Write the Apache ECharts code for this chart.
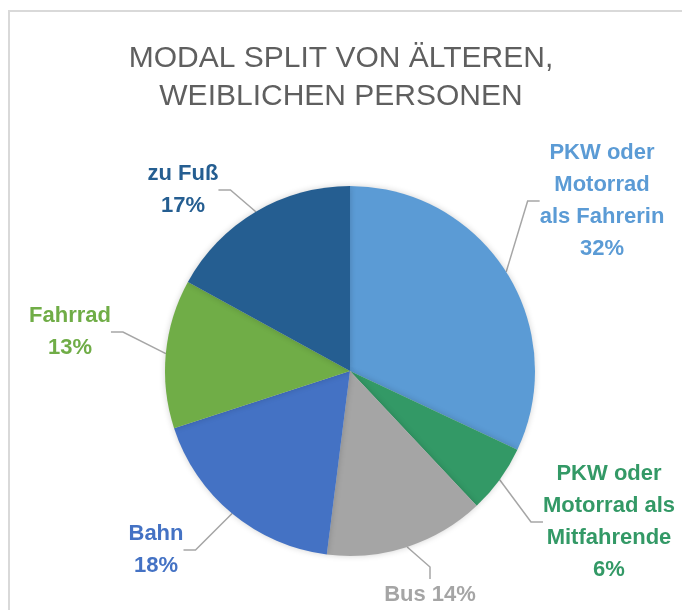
<!DOCTYPE html>
<html>
<head>
<meta charset="utf-8">
<script src="https://cdn.jsdelivr.net/npm/echarts@6/dist/echarts.min.js"></script>
<style>
  html, body { margin: 0; padding: 0; background: #fff; }
  #chart { width: 682px; height: 610px; }
</style>
</head>
<body>
<div id="chart"></div>
<script>
// Daten
const categories = ['PKW oder Motorrad als Fahrerin', 'PKW oder Motorrad als Mitfahrende', 'Bus', 'Bahn', 'Fahrrad', 'zu Fuß']
const shares = [32, 6, 14, 18, 13, 17]
const labelTexts = ['PKW oder\nMotorrad\nals Fahrerin', 'PKW oder\nMotorrad als\nMitfahrende', 'Bus', 'Bahn', 'Fahrrad', 'zu Fuß']
const colors = ['#5B9BD5', '#339966', '#A5A5A5', '#4472C4', '#70AD47', '#255E91']

// Mittelpunkte der Beschriftungen (wie im Original von Hand gesetzt)
const labelPos = [[602, 201], [609, 522], [430, 595], [156, 550], [70, 332], [183, 190]]

const chart = echarts.init(document.getElementById('chart'))

const option = {
  backgroundColor: '#fff',
  textStyle: { fontFamily: 'Liberation Sans, Arial, sans-serif' },
  title: {
    text: 'MODAL SPLIT VON ÄLTEREN,\nWEIBLICHEN PERSONEN',
    left: 'center',
    top: 40,
    padding: [0, 0, 0, 16],
    textStyle: {
      fontFamily: 'Liberation Sans',
      fontSize: 30,
      fontWeight: 'normal',
      color: '#5f5f5f',
      lineHeight: 38
    }
  },
  graphic: [
    {
      type: 'rect',
      silent: true,
      shape: { x: 9, y: 11, width: 800, height: 800 },
      style: { fill: 'none', stroke: '#D9D9D9', lineWidth: 2 }
    }
  ],
  series: [
    {
      type: 'pie',
      center: [350, 371],
      radius: 185,
      startAngle: 90,
      clockwise: true,
      animation: false,
      avoidLabelOverlap: false,
      itemStyle: {
        shadowBlur: 6,
        shadowColor: 'rgba(0,0,0,0.18)'
      },
      label: {
        show: true,
        position: 'outside',
        fontFamily: 'Liberation Sans',
        fontSize: 22,
        fontWeight: 'bold',
        lineHeight: 32,
        formatter: (p) => {
          const sep = p.dataIndex === 2 ? ' ' : '\n'
          return labelTexts[p.dataIndex] + sep + p.value + '%'
        }
      },
      labelLine: {
        show: true,
        length: 12,
        length2: 12,
        lineStyle: { color: '#A6A6A6', width: 1.5 }
      },
      labelLayout: (params) => {
        const pos = labelPos[params.dataIndex]
        return { x: pos[0], y: pos[1], align: 'center', verticalAlign: 'middle' }
      },
      data: shares.map((v, i) => ({
        name: categories[i],
        value: v,
        itemStyle: { color: colors[i] },
        label: { color: colors[i] }
      }))
    }
  ]
}

chart.setOption(option)
</script>
</body>
</html>
